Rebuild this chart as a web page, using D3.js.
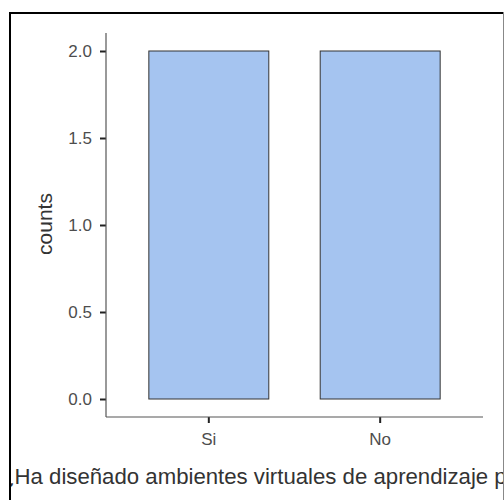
<!DOCTYPE html>
<html>
<head>
<meta charset="utf-8">
<script src="https://cdn.jsdelivr.net/npm/d3@7"></script>
<style>
  body { margin: 0; background: #fff; }
  svg { display: block; font-family: "Liberation Sans", Arial, sans-serif; }
</style>
</head>
<body>
<div id="chart"></div>
<script>
// data
const categories = ["Si", "No"];
const counts = [2, 2];
const yTicks = [0, 0.5, 1, 1.5, 2];

const width = 504, height = 500;

const svg = d3.select("#chart")
  .append("svg")
    .attr("width", width)
    .attr("height", height);

// plot area
const plotLeft = 106, plotRight = 483, plotTop = 33, plotBottom = 417;

const x = d3.scaleBand()
  .domain(categories)
  .range([plotLeft, plotRight])
  .paddingInner(0.3)
  .paddingOuter(0.25);

const y = d3.scaleLinear()
  .domain([0, 2])
  .range([399, 51]);

// bars
svg.selectAll("rect.bar")
  .data(categories)
  .enter()
  .append("rect")
    .attr("class", "bar")
    .attr("x", d => x(d))
    .attr("width", x.bandwidth())
    .attr("y", (d, i) => y(counts[i]))
    .attr("height", (d, i) => y(0) - y(counts[i]))
    .attr("fill", "#a5c4f0")
    .attr("stroke", "#333333")
    .attr("stroke-width", 1);

// y axis
const yAxis = svg.append("g")
  .attr("transform", "translate(" + plotLeft + ",0)")
  .call(d3.axisLeft(y).tickValues(yTicks).tickFormat(d3.format(".1f")).tickSize(6).tickSizeOuter(0));
yAxis.select(".domain").remove();
yAxis.append("line")
  .attr("x1", 0).attr("x2", 0)
  .attr("y1", plotTop).attr("y2", plotBottom)
  .attr("stroke", "#555").attr("stroke-width", 1.2);
yAxis.selectAll(".tick line").attr("stroke", "#222").attr("stroke-width", 2);
yAxis.selectAll(".tick text")
  .attr("x", -14)
  .attr("fill", "#4d4d4d")
  .style("font-size", "17px");

// x axis
const xAxis = svg.append("g")
  .attr("transform", "translate(0," + plotBottom + ")")
  .call(d3.axisBottom(x).tickSize(6).tickSizeOuter(0));
xAxis.select(".domain").remove();
xAxis.append("line")
  .attr("x1", plotLeft).attr("x2", plotRight)
  .attr("y1", 0).attr("y2", 0)
  .attr("stroke", "#555").attr("stroke-width", 1.2);
xAxis.selectAll(".tick line").attr("stroke", "#222").attr("stroke-width", 2);
xAxis.selectAll(".tick text")
  .attr("y", 16)
  .attr("fill", "#4d4d4d")
  .style("font-size", "17px");

// axis titles
svg.append("text")
  .attr("transform", "translate(52,224) rotate(-90)")
  .attr("text-anchor", "middle")
  .attr("fill", "#333")
  .style("font-size", "21px")
  .text("counts");

svg.append("defs").append("clipPath").attr("id", "clip")
  .append("rect").attr("x", 11).attr("y", 0).attr("width", 492).attr("height", 500);

svg.append("text")
  .attr("clip-path", "url(#clip)")
  .attr("x", 1)
  .attr("y", 484)
  .attr("fill", "#333")
  .style("font-size", "22.2px")
  .text("¿Ha diseñado ambientes virtuales de aprendizaje para sus estudiantes?");

// frame
svg.append("line").attr("x1", 10).attr("x2", 10).attr("y1", 12).attr("y2", 500)
  .attr("stroke", "#000").attr("stroke-width", 2);
svg.append("line").attr("x1", 9).attr("x2", 503).attr("y1", 13).attr("y2", 13)
  .attr("stroke", "#000").attr("stroke-width", 2);
svg.append("line").attr("x1", 503.5).attr("x2", 503.5).attr("y1", 12).attr("y2", 500)
  .attr("stroke", "#888").attr("stroke-width", 1);
</script>
</body>
</html>
